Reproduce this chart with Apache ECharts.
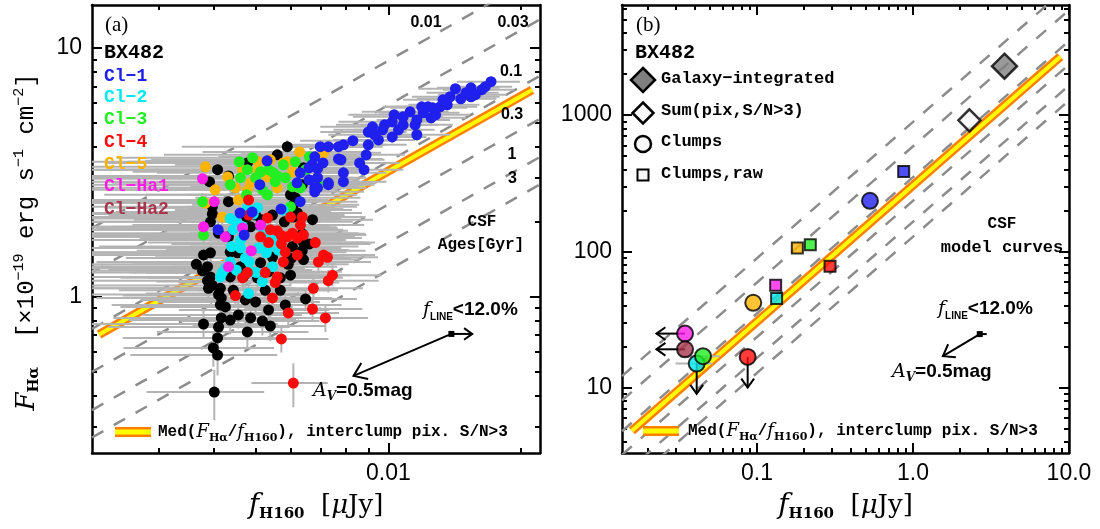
<!DOCTYPE html>
<html>
<head>
<meta charset="utf-8">
<title>BX482 F_Ha vs f_H160</title>
<script src="https://cdn.jsdelivr.net/npm/echarts@6.0.0/dist/echarts.min.js"></script>
<style>
  html, body { margin: 0; padding: 0; background: #fff; }
  #main { width: 1100px; height: 529px; }
</style>
</head>
<body>
<div id="main"></div>
<script>
// ---- axes: ranges and tick values ----
const xRangeA = [0.00212, 0.0221]
const yRangeA = [0.235, 14.9]
const xMajorA = [0.01]
const xMinorA = [0.003, 0.004, 0.005, 0.006, 0.007, 0.008, 0.009, 0.02]
const yMajorA = [1, 10]
const yMinorA = [0.3, 0.4, 0.5, 0.6, 0.7, 0.8, 0.9, 2, 3, 4, 5, 6, 7, 8, 9]

const xRangeB = [0.01365, 10]
const yRangeB = [3.31, 6430]
const xMajorB = [0.1, 1, 10]
const xMinorB = [0.02, 0.03, 0.04, 0.05, 0.06, 0.07, 0.08, 0.09, 0.2, 0.3, 0.4, 0.5, 0.6, 0.7, 0.8, 0.9, 2, 3, 4, 5, 6, 7, 8, 9]
const yMajorB = [10, 100, 1000]
const yMinorB = [4, 5, 6, 7, 8, 9, 20, 30, 40, 50, 60, 70, 80, 90, 200, 300, 400, 500, 600, 700, 800, 900, 2000, 3000, 4000, 5000, 6000]

// ---- CSF model curves (F_Ha / f_H160 ratio per age, Gyr) ----
const csfAges = ['0.01', '0.03', '0.1', '0.3', '1', '3']
const csfRatios = [890, 590, 350, 235, 165, 128]

// median F_Ha/f_H160 of interclump pixels
const medRatioA = 320
const medRangeA = [0.0022, 0.0212]
const medRatioB = 305
const medRangeB = [0.0158, 8.8]

// ---- panel (a): pixels, [f_H160, F_Ha, err f_H160, err F_Ha] ----
const otherPixels = [
  [0.00589, 4.01, 0.0025, 0.25], [0.00559, 3.72, 0.0025, 0.2], [0.00478, 3.45, 0.0025, 0.2], [0.00409, 3.24, 0.0022, 0.2],
  [0.00433, 3.06, 0.0025, 0.2], [0.00392, 2.90, 0.0022, 0.2], [0.00641, 3.30, 0.0025, 0.2], [0.00433, 2.41, 0.0025, 0.2],
  [0.00398, 2.15, 0.0022, 0.2], [0.00614, 2.50, 0.0025, 0.2], [0.00637, 2.82, 0.0025, 0.2], [0.00476, 2.09, 0.0025, 0.15],
  [0.00514, 2.04, 0.0025, 0.15], [0.00545, 2.13, 0.0025, 0.15], [0.00580, 2.00, 0.0025, 0.15], [0.00608, 2.09, 0.0025, 0.15],
  [0.00672, 2.04, 0.0025, 0.15], [0.00637, 1.79, 0.0025, 0.15], [0.00661, 1.63, 0.0025, 0.15], [0.00637, 1.53, 0.0025, 0.15],
  [0.00602, 1.43, 0.0022, 0.15], [0.00592, 1.35, 0.0022, 0.12], [0.00512, 1.93, 0.0025, 0.15], [0.00486, 1.91, 0.0025, 0.15],
  [0.00394, 2.00, 0.0022, 0.15], [0.00411, 1.80, 0.0022, 0.15], [0.00433, 1.74, 0.0025, 0.15], [0.00394, 1.50, 0.0022, 0.12],
  [0.00380, 1.47, 0.0022, 0.12], [0.00437, 1.51, 0.0025, 0.12], [0.00454, 1.50, 0.0025, 0.12], [0.00545, 1.44, 0.0025, 0.12],
  [0.00512, 1.37, 0.0025, 0.12], [0.00388, 1.32, 0.0022, 0.12], [0.00461, 1.32, 0.0025, 0.12], [0.00468, 1.20, 0.0022, 0.12],
  [0.00534, 1.26, 0.0025, 0.12], [0.00378, 1.27, 0.0022, 0.12], [0.00394, 1.20, 0.0022, 0.12], [0.00437, 1.20, 0.0022, 0.12],
  [0.00504, 1.19, 0.0022, 0.12], [0.00568, 1.19, 0.0022, 0.12], [0.00599, 1.22, 0.0022, 0.12], [0.00388, 1.16, 0.002, 0.1],
  [0.00398, 1.11, 0.002, 0.1], [0.00390, 1.08, 0.002, 0.1], [0.00415, 1.08, 0.002, 0.1], [0.00411, 1.02, 0.002, 0.1],
  [0.00415, 0.926, 0.0018, 0.1], [0.00426, 0.909, 0.0018, 0.1], [0.00499, 0.952, 0.002, 0.1], [0.00534, 0.884, 0.002, 0.1],
  [0.00648, 0.979, 0.002, 0.1], [0.00486, 0.821, 0.0018, 0.1], [0.00517, 0.798, 0.0018, 0.1], [0.00539, 0.762, 0.0018, 0.1],
  [0.00380, 0.776, 0.0018, 0.1], [0.00411, 0.755, 0.0018, 0.1], [0.00409, 0.682, 0.0016, 0.1], [0.00478, 0.721, 0.0018, 0.1],
  [0.00400, 0.622, 0.0015, 0.1], [0.00409, 0.582, 0.0015, 0.1], [0.00402, 0.413, 0.0012, 0.095],
  [0.00398, 2.30, 0.0022, 0.2], [0.00599, 2.57, 0.0025, 0.2], [0.00608, 2.34, 0.0025, 0.2], [0.00621, 2.17, 0.0025, 0.15],
  [0.00499, 2.13, 0.0025, 0.15], [0.00605, 1.59, 0.0025, 0.15], [0.00641, 1.65, 0.0025, 0.15], [0.00641, 1.41, 0.0022, 0.12],
  [0.00417, 0.988, 0.002, 0.1], [0.00417, 0.821, 0.0018, 0.1], [0.00444, 1.06, 0.002, 0.1], [0.00473, 0.970, 0.002, 0.1],
  [0.00456, 0.844, 0.0018, 0.1], [0.00568, 1.06, 0.002, 0.1], [0.00583, 0.926, 0.002, 0.1], [0.00525, 1.06, 0.002, 0.1],
  [0.00437, 0.805, 0.0018, 0.1], [0.00366, 1.35, 0.0022, 0.12]
]
const clump1Pixels = [
  [0.0171, 7.32, 0.0028, 0.35], [0.0166, 6.99, 0.0025, 0.3], [0.0163, 6.80, 0.003, 0.3], [0.0154, 6.92, 0.0025, 0.3],
  [0.0150, 6.61, 0.0028, 0.3], [0.0142, 6.86, 0.0025, 0.3], [0.0146, 6.25, 0.003, 0.3], [0.0154, 6.37, 0.0025, 0.3],
  [0.0133, 6.19, 0.0025, 0.3], [0.0131, 5.80, 0.0028, 0.3], [0.0136, 5.91, 0.0025, 0.3], [0.0126, 5.75, 0.0025, 0.3],
  [0.0123, 5.80, 0.0025, 0.3], [0.0119, 5.80, 0.0022, 0.3], [0.0120, 5.49, 0.0025, 0.3], [0.0128, 5.39, 0.0025, 0.3],
  [0.0116, 5.14, 0.0022, 0.25], [0.0108, 5.29, 0.0025, 0.25], [0.0103, 5.39, 0.0022, 0.25], [0.0102, 5.05, 0.0025, 0.25],
  [0.0108, 4.91, 0.0022, 0.25], [0.0115, 4.91, 0.0025, 0.25], [0.0116, 4.48, 0.0022, 0.25], [0.0098, 4.91, 0.0022, 0.25],
  [0.0097, 4.69, 0.0022, 0.25], [0.0102, 4.39, 0.002, 0.25], [0.0092, 4.82, 0.0022, 0.25], [0.0090, 4.60, 0.002, 0.25],
  [0.0093, 4.48, 0.002, 0.25], [0.0090, 4.08, 0.002, 0.2], [0.0089, 3.72, 0.002, 0.2], [0.0086, 3.45, 0.002, 0.2],
  [0.0088, 3.24, 0.002, 0.2], [0.0083, 4.24, 0.002, 0.2], [0.0079, 4.08, 0.002, 0.2], [0.0077, 4.01, 0.002, 0.2],
  [0.0073, 4.01, 0.002, 0.2], [0.0070, 4.01, 0.002, 0.2], [0.0077, 3.58, 0.002, 0.2], [0.0079, 3.15, 0.002, 0.2],
  [0.0079, 2.90, 0.002, 0.2], [0.0073, 2.87, 0.002, 0.2], [0.0068, 3.65, 0.002, 0.2], [0.0071, 3.45, 0.002, 0.2],
  [0.0067, 3.39, 0.002, 0.2], [0.0078, 3.55, 0.002, 0.2], [0.0063, 3.15, 0.0022, 0.2], [0.0066, 2.95, 0.002, 0.2],
  [0.0068, 2.74, 0.002, 0.2], [0.0069, 3.01, 0.002, 0.2], [0.0066, 3.30, 0.002, 0.2], [0.0069, 3.27, 0.002, 0.2],
  [0.0073, 2.82, 0.002, 0.2], [0.0069, 2.74, 0.002, 0.2], [0.0068, 2.64, 0.002, 0.2], [0.0062, 2.87, 0.0022, 0.2],
  [0.0063, 2.41, 0.0022, 0.2], [0.0057, 2.25, 0.0022, 0.2], [0.0053, 3.52, 0.0025, 0.2], [0.0051, 2.82, 0.0025, 0.2],
  [0.0049, 2.19, 0.0025, 0.2], [0.0046, 2.17, 0.0025, 0.2], [0.0041, 1.86, 0.0025, 0.15], [0.0047, 1.77, 0.0025, 0.15],
  [0.01576, 6.49, 0.0028, 0.3], [0.0138, 6.37, 0.0025, 0.3], [0.0125, 5.24, 0.0025, 0.3], [0.01054, 4.69, 0.0022, 0.25],
  [0.00949, 4.27, 0.002, 0.25], [0.0112, 5.54, 0.0025, 0.3]
]
const clump2Pixels = [
  [0.00437, 2.06, 0.0025, 0.15], [0.00444, 1.86, 0.0025, 0.15], [0.00461, 1.69, 0.0025, 0.15], [0.00461, 1.57, 0.0025, 0.12],
  [0.00478, 2.28, 0.0025, 0.15], [0.00504, 2.28, 0.0025, 0.15], [0.00577, 2.23, 0.0025, 0.15], [0.00522, 1.72, 0.0025, 0.15],
  [0.00531, 1.57, 0.0025, 0.12], [0.00506, 1.57, 0.0025, 0.12], [0.00562, 1.54, 0.0025, 0.12], [0.00483, 1.38, 0.0022, 0.12],
  [0.00545, 1.32, 0.0022, 0.12], [0.00440, 1.59, 0.0022, 0.12], [0.00437, 1.38, 0.0022, 0.12], [0.00426, 1.30, 0.0022, 0.12],
  [0.00419, 1.25, 0.0022, 0.12], [0.00488, 1.26, 0.0022, 0.12], [0.00501, 1.25, 0.0022, 0.12], [0.00415, 1.20, 0.0022, 0.12],
  [0.00481, 1.03, 0.002, 0.1], [0.00466, 1.91, 0.0025, 0.15], [0.00493, 2.15, 0.0025, 0.15], [0.00528, 1.50, 0.0022, 0.12],
  [0.00451, 2.00, 0.0025, 0.15], [0.00517, 1.89, 0.0025, 0.15], [0.00551, 1.69, 0.0025, 0.15], [0.00473, 1.43, 0.0022, 0.12],
  [0.00451, 1.28, 0.0022, 0.12], [0.00517, 1.15, 0.0022, 0.12]
]
const clump3Pixels = [
  [0.00458, 3.49, 0.0025, 0.2], [0.00478, 3.24, 0.0025, 0.2], [0.00512, 3.18, 0.0025, 0.2], [0.00534, 3.24, 0.0025, 0.2],
  [0.00548, 3.15, 0.0025, 0.2], [0.00553, 2.90, 0.0025, 0.2], [0.00437, 2.82, 0.0025, 0.2], [0.00476, 2.57, 0.0025, 0.2],
  [0.00378, 2.41, 0.0022, 0.2], [0.00380, 1.77, 0.0022, 0.15], [0.00531, 2.57, 0.0025, 0.2], [0.00614, 3.49, 0.0025, 0.2],
  [0.00631, 2.74, 0.0025, 0.2], [0.00605, 2.77, 0.0025, 0.2], [0.00690, 2.87, 0.0025, 0.2], [0.00599, 2.30, 0.0025, 0.2],
  [0.00661, 3.65, 0.0025, 0.2], [0.00559, 3.06, 0.0025, 0.2], [0.00499, 3.01, 0.0025, 0.2], [0.00577, 3.39, 0.0025, 0.2],
  [0.00491, 3.62, 0.0025, 0.2], [0.00583, 3.01, 0.0025, 0.2], [0.00517, 2.69, 0.0025, 0.2], [0.00461, 3.01, 0.0025, 0.2],
  [0.00648, 3.24, 0.0025, 0.2]
]
const clump4Pixels = [
  [0.00481, 2.45, 0.0025, 0.2], [0.00481, 2.13, 0.0025, 0.15], [0.00531, 2.07, 0.0025, 0.15], [0.00599, 2.09, 0.0025, 0.15],
  [0.00637, 2.09, 0.0025, 0.15], [0.00539, 1.86, 0.0025, 0.15], [0.00559, 1.84, 0.0025, 0.15], [0.00571, 1.76, 0.0025, 0.15],
  [0.00589, 1.74, 0.0025, 0.15], [0.00605, 1.80, 0.0025, 0.15], [0.00621, 1.72, 0.0025, 0.15], [0.00641, 1.77, 0.0025, 0.15],
  [0.00512, 1.74, 0.0025, 0.15], [0.00571, 1.63, 0.0025, 0.15], [0.00682, 1.65, 0.0025, 0.15], [0.00712, 1.47, 0.0022, 0.12],
  [0.00727, 1.44, 0.0022, 0.12], [0.00621, 1.47, 0.0022, 0.12], [0.00583, 1.51, 0.0022, 0.12], [0.00577, 1.38, 0.0022, 0.12],
  [0.00478, 1.25, 0.0022, 0.12], [0.00525, 1.25, 0.0022, 0.12], [0.00466, 1.19, 0.0022, 0.12], [0.00559, 1.20, 0.0022, 0.12],
  [0.00553, 1.14, 0.0022, 0.12], [0.00746, 1.22, 0.0022, 0.12], [0.00730, 1.16, 0.0022, 0.12], [0.00449, 1.01, 0.002, 0.1],
  [0.00545, 0.988, 0.002, 0.1], [0.00675, 1.08, 0.002, 0.1], [0.00672, 0.892, 0.002, 0.1], [0.00592, 0.860, 0.0018, 0.1],
  [0.00719, 0.821, 0.0018, 0.1], [0.00571, 0.676, 0.0016, 0.08], [0.00608, 0.449, 0.0012, 0.09],
  [0.00631, 1.94, 0.0025, 0.15], [0.00534, 1.65, 0.0025, 0.15], [0.00693, 1.38, 0.0022, 0.12]
]
const clump5Pixels = [
  [0.00384, 3.33, 0.0022, 0.2], [0.00431, 3.03, 0.0025, 0.2], [0.00449, 2.74, 0.0025, 0.2], [0.00456, 2.45, 0.0025, 0.2],
  [0.00486, 2.87, 0.0025, 0.2], [0.00478, 2.69, 0.0025, 0.2], [0.00506, 3.49, 0.0025, 0.2], [0.00504, 3.24, 0.0025, 0.2],
  [0.00531, 3.03, 0.0025, 0.2], [0.00559, 2.74, 0.0025, 0.2], [0.00589, 3.49, 0.0025, 0.2], [0.00628, 3.82, 0.0025, 0.2],
  [0.00419, 2.09, 0.0022, 0.15], [0.00384, 2.38, 0.0022, 0.2], [0.00712, 3.79, 0.0025, 0.2], [0.00577, 3.45, 0.0025, 0.2],
  [0.00539, 3.55, 0.0025, 0.2], [0.00466, 3.24, 0.0025, 0.2], [0.00404, 2.69, 0.0022, 0.2], [0.00605, 3.18, 0.0025, 0.2]
]
const clumpHa1Pixels = [
  [0.00378, 2.98, 0.0022, 0.2], [0.00402, 2.41, 0.0022, 0.2], [0.00380, 1.91, 0.0022, 0.15], [0.00426, 1.74, 0.0022, 0.15],
  [0.00466, 1.89, 0.0025, 0.15], [0.00512, 1.94, 0.0025, 0.15], [0.00488, 1.53, 0.0022, 0.12], [0.00433, 1.32, 0.0022, 0.12]
]

// ---- panel (b): integrated fluxes ----
const clumpNames = ['Cl\u22121', 'Cl\u22122', 'Cl\u22123', 'Cl\u22124', 'Cl\u22125', 'Cl\u2212Ha1', 'Cl\u2212Ha2']
const galaxyTotal = [[3.86, 2286]]
const pixelSum = [[2.30, 915]]
const clumpFlux = [[0.530, 235], [0.0411, 15.0], [0.0451, 17.0], [0.0872, 16.8], [0.0947, 41.9], [0.0346, 24.9], [0.0346, 19.1]]
const clumpFluxErrX = [0, 0.011, 0.013, 0, 0, 0, 0]
const clumpRawFlux = [[0.872, 386], [0.1337, 45.1], [0.2198, 112], [0.294, 77.8], [0.1815, 106], [0.1318, 56.5]]
// upper limits: [x, y, x at arrow tip, y at arrow tip]
const clumpLimits = [[0.0872, 16.8, 0.0872, 10.0], [0.0411, 15.0, 0.0411, 9.0], [0.0346, 24.9, 0.0227, 24.9], [0.0346, 19.1, 0.0227, 19.1]]

// reddening (A_V = 0.5 mag) and line-contamination vectors: [x0, y0, x1, y1]
const avVectorA = [[0.0139, 0.708, 0.00833, 0.480]]
const lineVectorA = [[0.0139, 0.708, 0.0155, 0.708]]
const avVectorB = [[2.68, 24.7, 1.556, 17.0]]
const lineVectorB = [[2.68, 24.7, 2.97, 24.7]]

// ---- styles ----
const clumpColors = ['#2020ee', '#00e8f2', '#22ee22', '#ff0a0a', '#ffb400', '#ff1ee8', '#a8354c']
const monoBold = 'Liberation Mono'

const chart = echarts.init(document.getElementById('main'))

const axisLabelFont = {fontFamily: 'Liberation Sans', fontSize: 23, color: '#000'}

function sideAxes(grid, pos, range, major, minor, fmt, extra) {
    const isX = pos === 'bottom' || pos === 'top'
    const common = {
        type: 'log', gridIndex: grid, position: pos, min: range[0], max: range[1],
        splitLine: {show: false}, minorTick: {show: false}, minorSplitLine: {show: false}, silent: true
    }
    const majorAxis = Object.assign({}, common, {
        axisLine: {show: true, onZero: false, lineStyle: {color: '#000', width: 2.5}},
        axisTick: {show: true, inside: true, length: 10, customValues: major, lineStyle: {color: '#000', width: 2}},
        axisLabel: fmt
            ? Object.assign({show: true, customValues: major, formatter: fmt, margin: isX ? 9 : 10,
                showMinLabel: true, showMaxLabel: true, hideOverlap: false}, axisLabelFont)
            : {show: false}
    }, extra || {})
    const minorAxis = Object.assign({}, common, {
        axisLine: {show: false},
        axisTick: {show: true, inside: true, length: 5, customValues: minor, lineStyle: {color: '#000', width: 2}},
        axisLabel: {show: false}
    })
    return [majorAxis, minorAxis]
}

const xName = {
    name: '{i|f}{s|H160}  [{m|\u03bc}Jy]',
    nameLocation: 'middle',
    nameGap: 34,
    nameTextStyle: {
        fontFamily: 'DejaVu Serif', fontSize: 26, lineHeight: 32, color: '#000',
        rich: {
            i: {fontFamily: 'DejaVu Serif', fontStyle: 'italic', fontSize: 28, lineHeight: 32},
            s: {fontFamily: 'DejaVu Serif', fontWeight: 'bold', fontSize: 15, lineHeight: 16, verticalAlign: 'bottom'},
            m: {fontFamily: 'DejaVu Serif', fontStyle: 'italic', fontSize: 26, lineHeight: 32}
        }
    }
}
const yName = {
    name: '{i|F}{s|H\u03b1}  [\u00d710{p|\u221219} erg s{p|\u22121} cm{p|\u22122}]',
    nameLocation: 'middle',
    nameRotate: 90,
    nameGap: 50,
    nameTextStyle: {
        fontFamily: 'Liberation Mono', fontSize: 24, lineHeight: 30, color: '#000',
        padding: [0, 26, 0, 0],
        rich: {
            i: {fontFamily: 'DejaVu Serif', fontStyle: 'italic', fontSize: 26, lineHeight: 30},
            s: {fontFamily: 'DejaVu Serif', fontWeight: 'bold', fontSize: 15, lineHeight: 16, verticalAlign: 'bottom'},
            p: {fontFamily: 'Liberation Mono', fontSize: 15, lineHeight: 16, verticalAlign: 'top'}
        }
    }
}

function modelLine(range, ratio, axis, lineStyle, z) {
    return {
        type: 'line', xAxisIndex: axis, yAxisIndex: axis, z: z, symbol: 'none', silent: true,
        data: [[range[0], range[0] * ratio], [range[1], range[1] * ratio]],
        lineStyle: lineStyle
    }
}

function csfLines(range, axis) {
    return csfRatios.map(r => modelLine(range, r, axis, {color: '#8c8c8c', width: 2.5, type: [13, 12]}, 1))
}

function medBand(range, ratio, axis) {
    return [
        modelLine(range, ratio, axis, {color: '#ff8000', width: 9, cap: 'butt'}, 2),
        modelLine(range, ratio, axis, {color: '#ffff00', width: 4, cap: 'butt'}, 3)
    ]
}

function errorBars(data, axis, xr, yr) {
    return {
        type: 'custom', xAxisIndex: axis, yAxisIndex: axis, z: 4, silent: true, data: data,
        encode: {x: 0, y: 1},
        renderItem: function (params, api) {
            const x = api.value(0), y = api.value(1), xe = api.value(2), ye = api.value(3)
            const st = {stroke: '#b4b4b4', lineWidth: 2}
            const kids = []
            if (xe > 0) {
                const a = api.coord([Math.max(x - xe, xr[0]), y])
                const b = api.coord([Math.min(x + xe, xr[1]), y])
                kids.push({type: 'line', shape: {x1: a[0], y1: a[1], x2: b[0], y2: b[1]}, style: st})
            }
            if (ye > 0) {
                const a = api.coord([x, Math.max(y - ye, yr[0])])
                const b = api.coord([x, Math.min(y + ye, yr[1])])
                kids.push({type: 'line', shape: {x1: a[0], y1: a[1], x2: b[0], y2: b[1]}, style: st})
            }
            return {type: 'group', children: kids}
        }
    }
}

function arrows(data, axis, head, marker, z) {
    return {
        type: 'custom', xAxisIndex: axis, yAxisIndex: axis, z: z, silent: true, data: data,
        encode: {x: 0, y: 1},
        renderItem: function (params, api) {
            const p0 = api.coord([api.value(0), api.value(1)])
            const p1 = api.coord([api.value(2), api.value(3)])
            const st = {stroke: '#000', lineWidth: 2, fill: 'none'}
            const kids = [{type: 'line', shape: {x1: p0[0], y1: p0[1], x2: p1[0], y2: p1[1]}, style: st}]
            if (head) {
                const ang = Math.atan2(p1[1] - p0[1], p1[0] - p0[0])
                kids.push({type: 'polyline', style: st, shape: {points: [
                    [p1[0] - head * Math.cos(ang - 0.62), p1[1] - head * Math.sin(ang - 0.62)],
                    [p1[0], p1[1]],
                    [p1[0] - head * Math.cos(ang + 0.62), p1[1] - head * Math.sin(ang + 0.62)]
                ]}})
            }
            if (marker) {
                kids.push({type: 'rect', shape: {x: p0[0] - marker / 2, y: p0[1] - marker / 2, width: marker, height: marker}, style: {fill: '#000'}})
            }
            return {type: 'group', children: kids}
        }
    }
}

function pixelScatter(data, color) {
    return {
        type: 'scatter', xAxisIndex: 0, yAxisIndex: 0, z: 5, silent: true, data: data,
        symbol: 'circle', symbolSize: 11, itemStyle: {color: color, opacity: 1}
    }
}

const pixelGroups = [
    [otherPixels, '#000000'],
    [clump5Pixels, clumpColors[4]],
    [clump3Pixels, clumpColors[2]],
    [clump2Pixels, clumpColors[1]],
    [clump4Pixels, clumpColors[3]],
    [clumpHa1Pixels, clumpColors[5]],
    [clump1Pixels, clumpColors[0]]
]

const series = [].concat(
    csfLines(xRangeA, 0),
    medBand(medRangeA, medRatioA, 0),
    pixelGroups.map(g => errorBars(g[0], 0, xRangeA, yRangeA)),
    pixelGroups.map(g => pixelScatter(g[0], g[1])),
    [arrows(avVectorA, 0, 15, 6, 7), arrows(lineVectorA, 0, 10, 0, 7)],

    csfLines(xRangeB, 4),
    medBand(medRangeB, medRatioB, 4),
    [errorBars(clumpFlux.map((p, i) => [p[0], p[1], clumpFluxErrX[i], 0]).filter(d => d[2] > 0), 4, xRangeB, yRangeB)],
    [arrows(clumpLimits, 4, 11, 0, 5)],
    [{
        type: 'scatter', xAxisIndex: 4, yAxisIndex: 4, z: 6, silent: true, data: galaxyTotal,
        symbol: 'diamond', symbolSize: 25, itemStyle: {color: '#808080', borderColor: '#000', borderWidth: 2.5}
    }, {
        type: 'scatter', xAxisIndex: 4, yAxisIndex: 4, z: 6, silent: true, data: pixelSum,
        symbol: 'diamond', symbolSize: 22, itemStyle: {color: '#f8f8f8', borderColor: '#000', borderWidth: 2.5}
    }, {
        type: 'scatter', xAxisIndex: 4, yAxisIndex: 4, z: 6, silent: true,
        data: clumpFlux.map((p, i) => ({value: p, itemStyle: {color: clumpColors[i]}})),
        symbol: 'circle', symbolSize: 16, itemStyle: {borderColor: '#000', borderWidth: 2}
    }, {
        type: 'scatter', xAxisIndex: 4, yAxisIndex: 4, z: 6, silent: true,
        data: clumpRawFlux.map((p, i) => ({value: p, itemStyle: {color: clumpColors[i]}})),
        symbol: 'rect', symbolSize: 11, itemStyle: {borderColor: '#000', borderWidth: 2}
    }],
    [arrows(avVectorB, 4, 13, 6, 7), arrows(lineVectorB, 4, 0, 0, 7)]
)

// ---- annotations ----
function txt(x, y, text, font, extra) {
    return {
        type: 'text', x: x, y: y, z: 20, silent: true,
        style: Object.assign({text: text, font: font, fill: '#000', align: 'left', verticalAlign: 'middle',
            textAlign: 'left', textVerticalAlign: 'middle'}, extra || {})
    }
}
function ctxt(x, y, text, font, extra) {
    return txt(x, y, text, font, Object.assign({align: 'center', textAlign: 'center'}, extra || {}))
}
const subRich = {
    i: {fontFamily: 'DejaVu Serif', fontStyle: 'italic', fontSize: 19, lineHeight: 24},
    s: {fontFamily: 'Liberation Sans', fontWeight: 'bold', fontSize: 10, lineHeight: 11, verticalAlign: 'bottom'},
    si: {fontFamily: 'DejaVu Serif', fontStyle: 'italic', fontWeight: 'bold', fontSize: 12, lineHeight: 12, verticalAlign: 'bottom'}
}
const legendRich = {
    i: {fontFamily: 'DejaVu Serif', fontStyle: 'italic', fontSize: 18, lineHeight: 24},
    s: {fontFamily: 'DejaVu Serif', fontWeight: 'bold', fontSize: 11, lineHeight: 12, verticalAlign: 'bottom'}
}
function swatch(x, y) {
    return [
        {type: 'rect', z: 20, silent: true, shape: {x: x, y: y - 5, width: 36, height: 10}, style: {fill: '#ff8000'}},
        {type: 'rect', z: 20, silent: true, shape: {x: x, y: y - 2.5, width: 36, height: 5}, style: {fill: '#ffff00'}}
    ]
}

const clumpLabelY = [76, 97.5, 119.5, 142.5, 164, 186.5, 209]
const ageLabelPos = [[426, 23], [513, 23], [511, 72], [512, 114.5], [512, 154.5], [512.5, 178.5]]

const graphics = [].concat(
    // panel (a)
    [txt(105, 25, '(a)', '21px Liberation Serif'),
     txt(104, 53, 'BX482', 'bold 20px ' + monoBold)],
    clumpNames.map((n, i) => txt(104, clumpLabelY[i], n, 'bold 18px ' + monoBold, {fill: clumpColors[i]})),
    csfAges.map((a, i) => ctxt(ageLabelPos[i][0], ageLabelPos[i][1], a, 'bold 16px Liberation Sans')),
    [ctxt(482, 222, 'CSF', 'bold 16px ' + monoBold),
     ctxt(481, 245, 'Ages[Gyr]', 'bold 16px ' + monoBold),
     txt(423, 310, '{i|f}{s|LINE}<12.0%', 'bold 19px Liberation Sans', {rich: subRich}),
     txt(313, 391, '{i|A}{si|V}=0.5mag', 'bold 19px Liberation Sans', {rich: subRich})],
    swatch(115, 432),
    [txt(158, 432, 'Med({i|F}{s|H\u03b1}/{i|f}{s|H160}), interclump pix. S/N>3', 'bold 16px ' + monoBold, {rich: legendRich})],

    // panel (b)
    [txt(636, 25, '(b)', '21px Liberation Serif'),
     txt(635, 53, 'BX482', 'bold 20px ' + monoBold),
     {type: 'polygon', z: 20, silent: true, shape: {points: [[643, 68], [655, 80], [643, 92], [631, 80]]},
        style: {fill: '#808080', stroke: '#000', lineWidth: 2.5}},
     {type: 'polygon', z: 20, silent: true, shape: {points: [[643, 102.5], [653.5, 113], [643, 123.5], [632.5, 113]]},
        style: {fill: '#f8f8f8', stroke: '#000', lineWidth: 2.5}},
     {type: 'circle', z: 20, silent: true, shape: {cx: 643, cy: 144, r: 8}, style: {fill: '#f8f8f8', stroke: '#000', lineWidth: 2.5}},
     {type: 'rect', z: 20, silent: true, shape: {x: 637.5, y: 169.5, width: 11, height: 11}, style: {fill: '#f8f8f8', stroke: '#000', lineWidth: 2}},
     txt(661, 79, 'Galaxy\u2212integrated', 'bold 17px ' + monoBold),
     txt(661, 111, 'Sum(pix,S/N>3)', 'bold 17px ' + monoBold),
     txt(661, 142, 'Clumps', 'bold 17px ' + monoBold),
     txt(661, 174, 'Clumps,raw', 'bold 17px ' + monoBold),
     ctxt(1002, 224, 'CSF', 'bold 16px ' + monoBold),
     ctxt(1002, 248, 'model curves', 'bold 17px ' + monoBold),
     txt(938, 309, '{i|f}{s|LINE}<12.0%', 'bold 19px Liberation Sans', {rich: subRich}),
     txt(892, 372, '{i|A}{si|V}=0.5mag', 'bold 19px Liberation Sans', {rich: subRich})],
    swatch(643, 431),
    [txt(688, 431, 'Med({i|F}{s|H\u03b1}/{i|f}{s|H160}), interclump pix. S/N>3', 'bold 16px ' + monoBold, {rich: legendRich})]
)

chart.setOption({
    animation: false,
    backgroundColor: '#fff',
    grid: [
        {left: 92, top: 5, width: 448, height: 448, containLabel: false, outerBoundsMode: 'none'},
        {left: 622, top: 5, width: 447, height: 448, containLabel: false, outerBoundsMode: 'none'}
    ],
    xAxis: [].concat(
        sideAxes(0, 'bottom', xRangeA, xMajorA, xMinorA, v => String(v), xName),
        sideAxes(0, 'top', xRangeA, xMajorA, xMinorA, null),
        sideAxes(1, 'bottom', xRangeB, xMajorB, xMinorB, v => Number(v).toFixed(1), xName),
        sideAxes(1, 'top', xRangeB, xMajorB, xMinorB, null)
    ),
    yAxis: [].concat(
        sideAxes(0, 'left', yRangeA, yMajorA, yMinorA, v => String(v), yName),
        sideAxes(0, 'right', yRangeA, yMajorA, yMinorA, null),
        sideAxes(1, 'left', yRangeB, yMajorB, yMinorB, v => String(v)),
        sideAxes(1, 'right', yRangeB, yMajorB, yMinorB, null)
    ),
    series: series,
    graphic: graphics
})
</script>
</body>
</html>
